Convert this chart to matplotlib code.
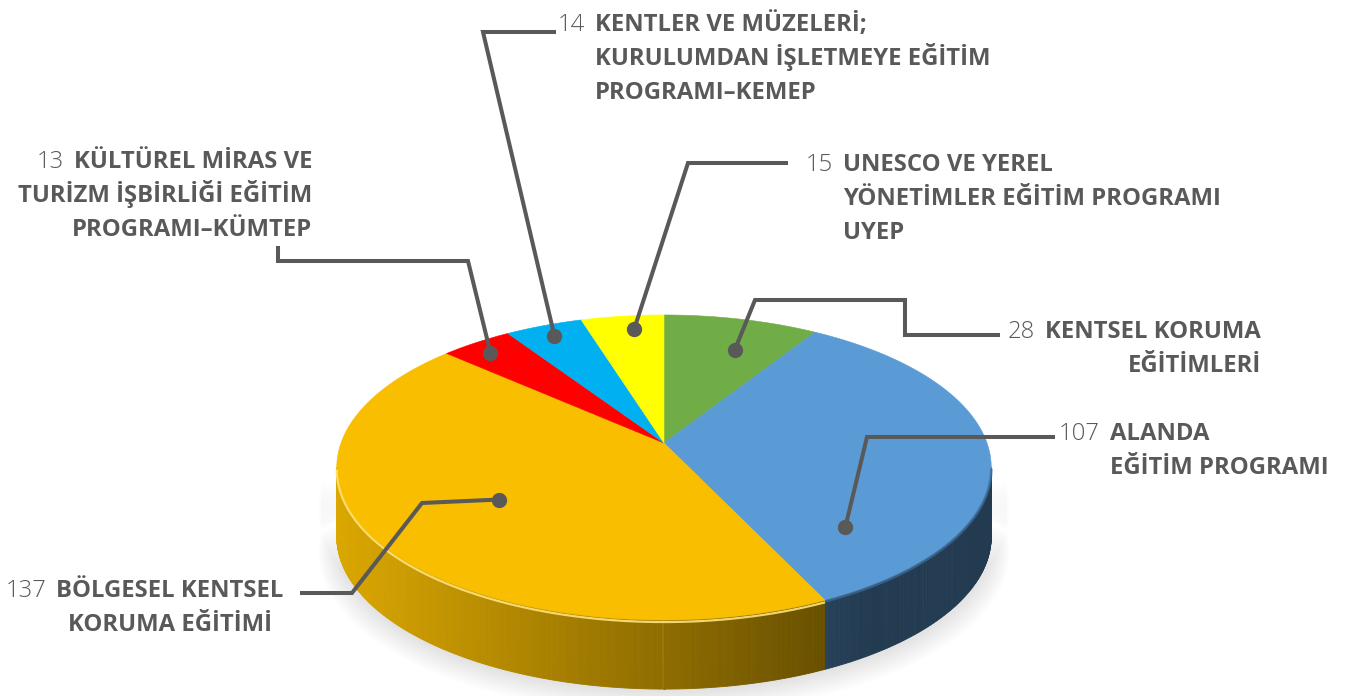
import matplotlib.pyplot as plt
from matplotlib.patches import Polygon
import numpy as np

# data
values = [28, 107, 137, 13, 14, 15]
numbers = ["28", "107", "137", "13", "14", "15"]
titles = [
    ["KENTSEL KORUMA", "EĞİTİMLERİ"],
    ["ALANDA", "EĞİTİM PROGRAMI"],
    ["BÖLGESEL KENTSEL", "KORUMA EĞİTİMİ"],
    ["KÜLTÜREL MİRAS VE", "TURİZM İŞBİRLİĞİ EĞİTİM", "PROGRAMI–KÜMTEP"],
    ["KENTLER VE MÜZELERİ;", "KURULUMDAN İŞLETMEYE EĞİTİM", "PROGRAMI–KEMEP"],
    ["UNESCO VE YEREL", "YÖNETİMLER EĞİTİM PROGRAMI", "UYEP"],
]
colors = ["#70AD47", "#5B9BD5", "#F9BE00", "#FF0000", "#00B0F0", "#FFFF00"]

# layout (pixels)
W, H = 1346, 696
cx, cy = 664, 443
A, B, K = 323.0, 148.6, 0.1607
DEPTH = 69
TXT = "#595959"
FS = 17.2

# dot position inside each wedge: (fraction along wedge, radius)
dot_pos = [(0.6, 0.74), (0.84, 0.73), (0.5, 0.6), (0.45, 0.9), (0.5, 0.9), (0.6, 0.88)]
# leader elbows after the dot
elbows = [
    [(755, 300), (905, 300), (905, 335), (1000, 335)],
    [(867, 437), (1055, 437)],
    [(422, 503), (352, 593), (300, 593)],
    [(468, 261), (278, 261), (278, 246)],
    [(483, 32), (556, 32)],
    [(688, 163), (788, 163)],
]
# text block: x, first baseline, alignment
blocks = [
    (1261, 338, "right"),
    (1110, 440, "left"),
    (170, 597, "center"),
    (312, 168, "right"),
    (595, 31, "left"),
    (843, 171, "left"),
]
LINE = 34


def proj(t, r=1.0):
    u = r * np.cos(t)
    v = r * np.sin(t)
    w = 1 + K * v
    return cx + A * u / w, cy - B * v / w


fig = plt.figure(figsize=(W / 100, H / 100), dpi=100)
ax = fig.add_axes([0, 0, 1, 1])
ax.set_xlim(0, W)
ax.set_ylim(H, 0)
ax.axis("off")

total = sum(values)
edges = np.pi / 2 - 2 * np.pi * np.concatenate([[0], np.cumsum(values)]) / total

# soft shadow under the pie
for i in range(10):
    t = np.linspace(np.pi, 2 * np.pi, 100)
    x, y = proj(t, 1.0 + 0.006 * i)
    x = np.concatenate([x, x[::-1]])
    y = np.concatenate([y + DEPTH + 2 + i * 1.2, (y + DEPTH - 30)[::-1]])
    ax.add_patch(Polygon(np.column_stack([x, y]), closed=True, fc="#000000",
                         alpha=0.012, ec="none"))

# side of the cylinder (front half only)
t1 = np.pi + np.arcsin(K)
t2 = 2 * np.pi - np.arcsin(K)
ts = np.linspace(t1, t2, 400)
x_left = proj(t1)[0]
for ta, tb in zip(ts[:-1], ts[1:]):
    tm = (ta + tb) / 2
    a = (np.pi / 2 - tm) % (2 * np.pi)
    idx = min(np.searchsorted(np.pi / 2 - edges[1:], a), len(values) - 1)
    xa, ya = proj(ta)
    xb, yb = proj(tb)
    f = 0.88 - 0.46 * (((xa + xb) / 2) - x_left) / (825 - x_left)
    f = max(f, 0.38)
    rgb = np.array([int(colors[idx][i:i + 2], 16) for i in (1, 3, 5)]) / 255 * f
    ax.add_patch(Polygon([(xa, ya), (xb, yb), (xb, yb + DEPTH), (xa, ya + DEPTH)],
                         closed=True, fc=rgb, ec=rgb, lw=0.6))

# top face
for i in range(len(values)):
    t = np.linspace(edges[i], edges[i + 1], 120)
    x, y = proj(t)
    pts = np.column_stack([np.concatenate([[cx], x]), np.concatenate([[cy], y])])
    ax.add_patch(Polygon(pts, closed=True, fc=colors[i], ec=colors[i], lw=0.4))

# bevel highlight on the front rim
t = np.linspace(t1, edges[2] + 2 * np.pi, 200)
x, y = proj(t)
ax.plot(x, y + 2, color="#FFE27A", lw=1.6, alpha=0.9, solid_capstyle="butt")
t = np.linspace(edges[2] + 2 * np.pi, t2, 100)
x, y = proj(t)
ax.plot(x, y + 1, color="#3E6E9C", lw=2.0, alpha=0.7, solid_capstyle="butt")

# leader lines and labels
fig.canvas.draw()
renderer = fig.canvas.get_renderer()
inv = ax.transData.inverted()
for i in range(len(values)):
    frac, r = dot_pos[i]
    ang = edges[i] + frac * (edges[i + 1] - edges[i])
    dx, dy = proj(ang, r)
    path = [(dx, dy)] + elbows[i]
    ax.plot([p[0] for p in path], [p[1] for p in path], color="#595959", lw=2.9,
            solid_joinstyle="miter", solid_capstyle="butt", zorder=5)
    ax.plot(dx, dy, "o", color="#595959", ms=10, zorder=6)

    bx, by, al = blocks[i]
    first = None
    for j, line in enumerate(titles[i]):
        tt = ax.text(bx, by + j * LINE, line, ha=al, va="baseline", fontsize=FS,
                     fontweight="bold", family="Open Sans", color=TXT)
        if j == 0:
            first = tt
    bb = first.get_window_extent(renderer)
    x0 = inv.transform((bb.x0, bb.y0))[0]
    ax.text(x0 - 10, by, numbers[i], ha="right", va="baseline", fontsize=FS,
            fontweight="light", family="Open Sans", color=TXT)

fig.savefig("out.png", dpi=100)
